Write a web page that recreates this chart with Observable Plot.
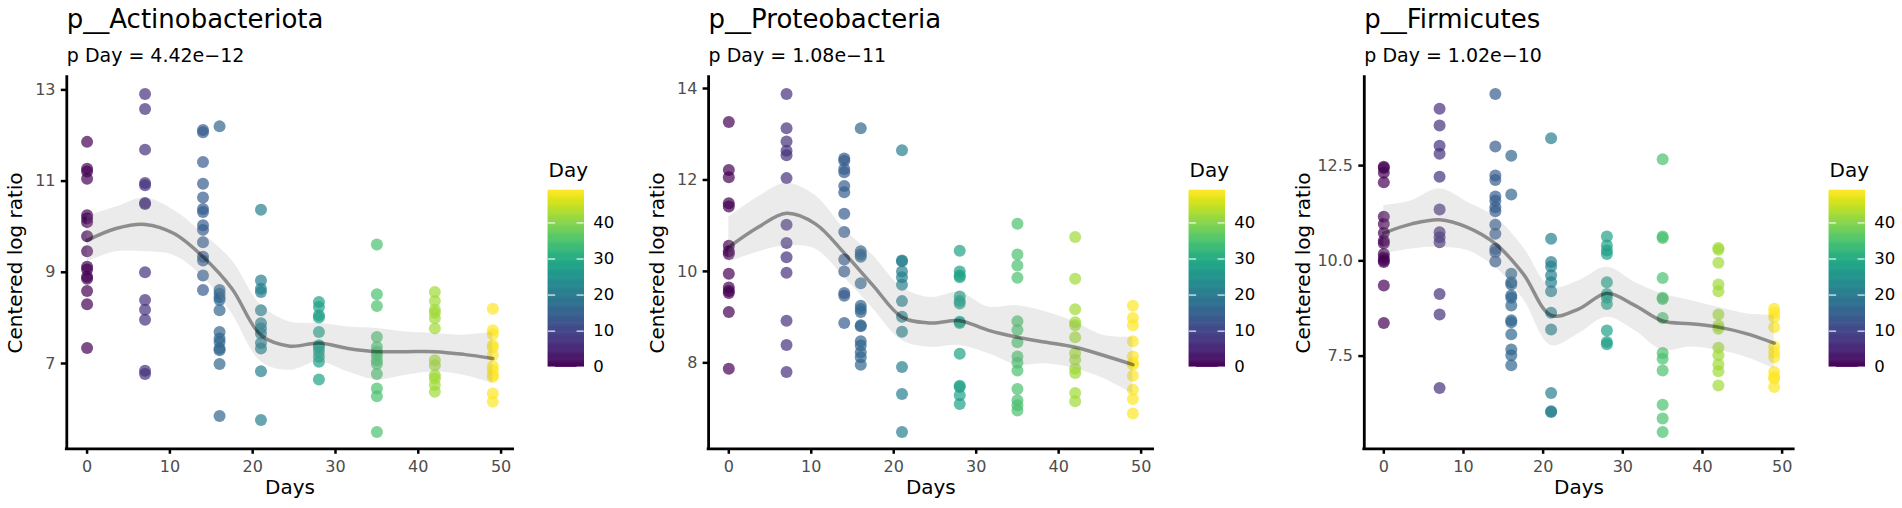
<!DOCTYPE html>
<html>
<head>
<meta charset="utf-8">
<script src="https://cdn.jsdelivr.net/npm/d3@7"></script>
<script src="https://cdn.jsdelivr.net/npm/@observablehq/plot@0.6"></script>
<style>
html, body { margin: 0; padding: 0; background: #fff; }
#chart { position: relative; width: 1902px; height: 508px; overflow: hidden; font-family: "DejaVu Sans"; }
#chart svg { position: absolute; top: 0; }
</style>
</head>
<body>
<div id="chart"></div>
<script>
// ---------- data ----------
const days = [0, 7, 14, 16, 21, 28, 35, 42, 49];
const xTicks = [0, 10, 20, 30, 40, 50];
const legendTicks = [0, 10, 20, 30, 40];

const titles = ["p__Actinobacteriota", "p__Proteobacteria", "p__Firmicutes"];
const pLabels = ["p Day = 4.42e\u221212", "p Day = 1.08e\u221211", "p Day = 1.02e\u221210"];

// centered log ratio per day (one inner list per entry of `days`)
const actinobacteriota = [
  [11.86, 11.27, 11.21, 11.05, 10.25, 10.18, 10.10, 9.79, 9.46, 9.12, 9.06, 8.90, 8.86, 8.59, 8.30, 7.34],
  [12.91, 12.58, 11.69, 10.96, 10.91, 10.52, 10.50, 9.00, 8.39, 8.18, 7.96, 6.84, 6.77],
  [12.12, 12.07, 11.42, 10.94, 10.64, 10.39, 10.32, 10.03, 9.93, 9.66, 9.34, 9.26, 8.93, 8.61],
  [12.20, 8.61, 8.53, 8.45, 8.39, 8.17, 7.69, 7.55, 7.47, 7.33, 7.29, 6.99, 5.85],
  [10.37, 8.82, 8.64, 8.57, 8.17, 7.88, 7.77, 7.66, 7.45, 7.33, 6.83, 5.76],
  [8.35, 8.24, 8.06, 8.01, 7.69, 7.40, 7.35, 7.26, 7.15, 7.04, 6.65],
  [9.61, 8.52, 8.26, 7.58, 7.36, 7.26, 7.18, 7.07, 6.99, 6.77, 6.45, 6.28, 5.50],
  [8.57, 8.37, 8.18, 8.11, 7.99, 7.77, 7.07, 6.96, 6.74, 6.67, 6.53, 6.38],
  [8.20, 7.73, 7.64, 7.40, 7.35, 7.18, 6.94, 6.85, 6.74, 6.71, 6.34, 6.16]
];
const proteobacteria = [
  [13.27, 12.22, 12.06, 11.49, 11.42, 10.56, 10.44, 10.38, 9.95, 9.65, 9.57, 9.53, 9.11, 7.87],
  [13.88, 13.13, 12.84, 12.64, 12.54, 12.04, 11.02, 10.62, 10.31, 9.97, 8.92, 8.39, 7.80],
  [12.47, 12.42, 12.24, 12.17, 11.87, 11.73, 11.26, 10.86, 10.26, 10.00, 9.53, 9.47, 8.87],
  [13.13, 10.44, 10.37, 10.32, 9.74, 9.25, 9.18, 9.11, 8.82, 8.80, 8.47, 8.38, 8.23, 8.12, 7.96],
  [12.65, 10.24, 10.22, 10.00, 9.87, 9.71, 9.35, 9.01, 8.68, 7.91, 7.32, 6.49],
  [10.45, 10.00, 9.91, 9.87, 9.45, 9.35, 9.30, 8.90, 8.87, 8.20, 7.50, 7.47, 7.29, 7.10],
  [11.04, 10.37, 10.13, 9.86, 8.91, 8.72, 8.45, 8.14, 8.00, 7.83, 7.43, 7.18, 7.07, 6.96],
  [10.75, 9.84, 9.17, 8.89, 8.82, 8.56, 8.21, 8.07, 7.87, 7.78, 7.34, 7.16],
  [9.25, 8.98, 8.82, 8.47, 8.14, 8.01, 7.96, 7.72, 7.41, 7.21, 6.89]
];
const firmicutes = [
  [12.47, 12.44, 12.31, 12.06, 11.16, 10.97, 10.73, 10.53, 10.46, 10.18, 10.08, 10.01, 9.97, 9.35, 8.37],
  [13.99, 13.55, 13.02, 12.81, 12.21, 11.35, 10.75, 10.62, 10.49, 9.13, 8.59, 6.66],
  [14.38, 13.00, 12.24, 12.12, 11.69, 11.58, 11.41, 11.30, 10.95, 10.71, 10.31, 10.23, 9.98],
  [12.76, 11.74, 9.66, 9.44, 9.38, 9.09, 9.03, 8.83, 8.44, 8.39, 8.07, 7.67, 7.52, 7.26],
  [13.22, 10.58, 9.97, 9.85, 9.62, 9.44, 9.20, 8.64, 8.20, 6.53, 6.05, 6.03],
  [10.64, 10.40, 10.27, 10.18, 9.44, 9.13, 9.03, 8.87, 8.17, 7.87, 7.81],
  [12.67, 10.64, 10.60, 9.55, 9.03, 9.00, 8.50, 7.58, 7.43, 7.12, 6.22, 5.86, 5.51],
  [10.34, 10.29, 9.95, 9.38, 9.20, 8.59, 8.30, 8.22, 7.72, 7.52, 7.28, 7.10, 6.73],
  [8.74, 8.63, 8.52, 8.26, 7.75, 7.60, 7.47, 7.08, 6.95, 6.91, 6.69]
];

// smoother (fit and confidence band)
const smoothDays = [0, 3.5, 7, 10.5, 14, 17.5, 21, 24.5, 28, 31.5, 35, 38.5, 42, 45.5, 49];
const actinoFit   = [9.70, 9.96, 10.05, 9.85, 9.34, 8.64, 7.62, 7.38, 7.45, 7.33, 7.26, 7.26, 7.26, 7.20, 7.11];
const actinoLower = [9.23, 9.45, 9.45, 9.37, 8.90, 8.09, 7.04, 6.85, 7.04, 6.82, 6.64, 6.74, 6.82, 6.74, 6.56];
const actinoUpper = [10.23, 10.43, 10.63, 10.36, 9.85, 9.26, 8.28, 7.91, 7.88, 7.80, 7.77, 7.69, 7.66, 7.62, 7.69];
const proteoFit   = [10.53, 10.96, 11.27, 11.04, 10.40, 9.69, 9.00, 8.87, 8.92, 8.71, 8.56, 8.45, 8.34, 8.16, 7.96];
const proteoLower = [10.20, 10.42, 10.56, 10.49, 9.87, 9.18, 8.49, 8.34, 8.38, 8.20, 7.96, 7.98, 7.87, 7.65, 7.32];
const proteoUpper = [11.18, 11.62, 11.93, 11.66, 10.93, 10.35, 9.65, 9.43, 9.54, 9.22, 9.25, 9.11, 8.89, 8.60, 8.56];
const firmFit     = [10.73, 10.97, 11.08, 10.88, 10.45, 9.66, 8.57, 8.74, 9.15, 8.83, 8.42, 8.35, 8.26, 8.09, 7.84];
const firmLower   = [10.18, 10.31, 10.36, 10.27, 9.83, 9.00, 7.78, 8.09, 8.52, 8.17, 7.65, 7.74, 7.65, 7.47, 7.17];
const firmUpper   = [11.45, 11.58, 11.89, 11.54, 11.15, 10.36, 9.31, 9.48, 9.83, 9.44, 9.13, 8.96, 8.78, 8.61, 8.57];

const yTicksActino = [7, 9, 11, 13];
const yTicksProteo = [8, 10, 12, 14];
const yTicksFirm = [7.5, 10, 12.5];

// ---------- layout ----------
const FONT = "DejaVu Sans";
const TOP = 76.6, BOTTOM = 448.3, H = 508;
const TITLE_FS = 26, SUB_FS = 19, AXIS_TITLE_FS = 20, TICK_FS = 16, LEG_FS = 16.5;
const panels = [
  { title: titles[0], sub: pLabels[0], values: actinobacteriota, fit: actinoFit, lo: actinoLower, hi: actinoUpper,
    yTicks: yTicksActino, fmt: d3.format("d"), svgLeft: 0, plotLeft: 66.3, plotRight: 512.6, yTitleX: 15.4, legendLeft: 548.3 },
  { title: titles[1], sub: pLabels[1], values: proteobacteria, fit: proteoFit, lo: proteoLower, hi: proteoUpper,
    yTicks: yTicksProteo, fmt: d3.format("d"), svgLeft: 630, plotLeft: 708.1, plotRight: 1152.6, yTitleX: 657, legendLeft: 1188.8 },
  { title: titles[2], sub: pLabels[2], values: firmicutes, fit: firmFit, lo: firmLower, hi: firmUpper,
    yTicks: yTicksFirm, fmt: d3.format(".1f"), svgLeft: 1270, plotLeft: 1363.8, plotRight: 1793.2, yTitleX: 1303, legendLeft: 1829.3 }
];

const chart = document.getElementById("chart");
const colorScale = { type: "linear", scheme: "viridis", domain: [0, 49] };

const xe = d3.extent(days);
const xpad = (xe[1] - xe[0]) * 0.05;
const xDom = [xe[0] - xpad, xe[1] + xpad];

// baseline -> anchor for lineAnchor "middle" (baseline sits 0.32em below anchor)
const mid = (baseline, fs) => baseline - 0.32 * fs;

for (const p of panels) {
  const pts = days.flatMap((d, i) => p.values[i].map(v => ({ day: d, clr: v })));
  const ye = d3.extent(pts, d => d.clr);
  const ypad = (ye[1] - ye[0]) * 0.05;
  const yDom = [ye[0] - ypad, ye[1] + ypad];
  const smooth = smoothDays.map((d, i) => ({ day: d, fit: p.fit[i], lo: p.lo[i], hi: p.hi[i] }));
  const mr = 10;
  const W = p.plotRight - p.svgLeft + mr;
  const svg = Plot.plot({
    width: W, height: H,
    marginLeft: p.plotLeft - p.svgLeft, marginRight: mr, marginTop: TOP, marginBottom: H - BOTTOM,
    x: { domain: xDom },
    y: { domain: yDom },
    color: colorScale,
    style: { fontFamily: FONT, background: "transparent", overflow: "visible" },
    marks: [
      Plot.dot(pts, { x: "day", y: "clr", fill: "day", r: 6, fillOpacity: 0.7 }),
      Plot.areaY(smooth, { x: "day", y1: "lo", y2: "hi", fill: "#999999", fillOpacity: 0.2, curve: "catmull-rom" }),
      Plot.line(smooth, { x: "day", y: "fit", stroke: "black", strokeOpacity: 0.4, strokeWidth: 3.5, curve: "catmull-rom" }),
      Plot.axisX({ ticks: xTicks, tickSize: 5.5, tickPadding: 6, strokeWidth: 2.5, stroke: "black", fill: "#4D4D4D", fontSize: TICK_FS, label: null }),
      Plot.axisY({ ticks: p.yTicks, tickFormat: p.fmt, tickSize: 5.5, tickPadding: 5.8, strokeWidth: 2.5, stroke: "black", fill: "#4D4D4D", fontSize: TICK_FS, label: null }),
      Plot.ruleY([yDom[0]], { stroke: "black", strokeWidth: 2.8, strokeLinecap: "square" }),
      Plot.ruleX([xDom[0]], { stroke: "black", strokeWidth: 2.8, strokeLinecap: "square" }),
      Plot.text([p.title], { text: d => d, frameAnchor: "top-left", lineAnchor: "middle", textAnchor: "start",
        dy: mid(27.3, TITLE_FS) - TOP, fontSize: TITLE_FS, fill: "black" }),
      Plot.text([p.sub], { text: d => d, frameAnchor: "top-left", lineAnchor: "middle", textAnchor: "start",
        dy: mid(61, SUB_FS) - TOP, fontSize: SUB_FS, fill: "black" }),
      Plot.text(["Days"], { text: d => d, frameAnchor: "bottom", lineAnchor: "middle", textAnchor: "middle",
        dy: mid(493.3, AXIS_TITLE_FS) - BOTTOM, fontSize: AXIS_TITLE_FS, fill: "black" }),
      Plot.text(["Centered log ratio"], { text: d => d, frameAnchor: "left", lineAnchor: "middle", textAnchor: "middle",
        dx: p.yTitleX - p.plotLeft, rotate: -90, fontSize: AXIS_TITLE_FS, fill: "black" })
    ]
  });
  svg.style.left = p.svgLeft + "px";
  chart.appendChild(svg);

  // colour bar legend
  const step = 0.25;
  const slices = d3.range(0, 49, step);
  const barW = 35.7, LW = 110;
  const LTOP = 190, LBOT = 366.7;
  const leg = Plot.plot({
    width: LW, height: H,
    marginLeft: 0, marginRight: LW - barW, marginTop: LTOP, marginBottom: H - LBOT,
    x: { domain: [0, 1], axis: null },
    y: { domain: [0, 49], axis: null },
    color: colorScale,
    style: { fontFamily: FONT, background: "transparent", overflow: "visible" },
    marks: [
      Plot.rect(slices, { x1: 0, x2: 1, y1: d => d, y2: d => Math.min(49, d + step), fill: d => d + step / 2, stroke: d => d + step / 2, strokeWidth: 0.6 }),
      Plot.ruleY(legendTicks, { y: d => d, x1: 0, x2: 0.2, stroke: "white", strokeWidth: 1.2, strokeOpacity: 0.9 }),
      Plot.ruleY(legendTicks, { y: d => d, x1: 0.8, x2: 1, stroke: "white", strokeWidth: 1.2, strokeOpacity: 0.9 }),
      Plot.text(legendTicks, { x: 1, y: d => d, text: d => String(d), dx: 9, textAnchor: "start", lineAnchor: "middle", fontSize: LEG_FS, fill: "black" }),
      Plot.text(["Day"], { text: d => d, frameAnchor: "top-left", lineAnchor: "middle", textAnchor: "start",
        dy: mid(176.7, AXIS_TITLE_FS) - LTOP, fontSize: AXIS_TITLE_FS, fill: "black" })
    ]
  });
  leg.style.left = p.legendLeft + "px";
  chart.appendChild(leg);
}
</script>
</body>
</html>
